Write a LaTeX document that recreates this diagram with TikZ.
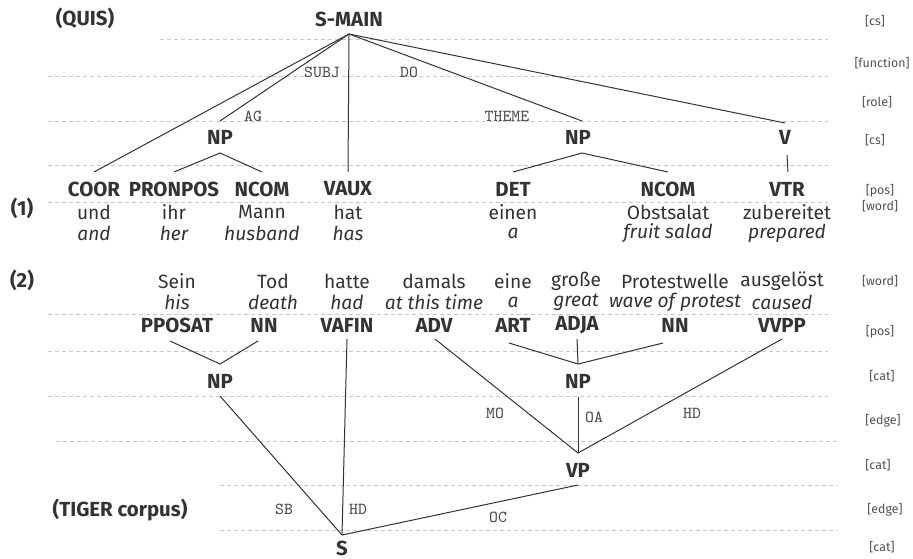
\documentclass[tikz,border=0pt]{standalone}
\usepackage{fontspec}
\setmainfont{Fira Sans}
\definecolor{txt}{HTML}{333333}
\definecolor{dashc}{HTML}{C8C8C8}
\definecolor{lbl}{HTML}{505050}
\begin{document}
\begin{tikzpicture}[x=0.5pt,y=-0.5pt,
 cat/.style={font=\fontsize{10.2}{12}\selectfont\bfseries, text=txt, inner sep=0pt},
 word/.style={font=\fontsize{9.6}{11}\selectfont, text=txt, inner sep=0pt},
 gloss/.style={font=\fontsize{9.6}{11}\selectfont\itshape, text=txt, inner sep=0pt},
 tier/.style={font=\fontsize{6.2}{7}\selectfont, text=lbl, inner sep=0pt},
 elab/.style={font=\ttfamily\fontsize{8.4}{10}\selectfont, text=lbl, inner sep=0pt},
 guide/.style={draw=dashc, dash pattern=on 2pt off 1.5pt, line width=0.45pt},
 branch/.style={draw=txt, line width=0.5pt}]
\useasboundingbox (0,0) rectangle (913,558);

% ---------- guide lines ----------
\foreach \yy/\xa/\xb in {39/160/828, 76/48/828, 121/48/828, 165/48/828, 202/48/828,
  314/48/828, 351/48/828, 396/48/828, 441/56/837, 485/220/837, 530/220/837}
  \draw[guide] (\xa,\yy) -- (\xb,\yy);

% ---------- tier labels ----------
\node[tier] (t1) at (875,21) {[cs]};
\node[tier] (t2) at (882,63) {[function]};
\node[tier] (t3) at (877,102) {[role]};
\node[tier] (t4) at (875,140) {[cs]};
\node[tier] (t5) at (880,191) {[pos]};
\node[tier] (t6) at (880,206) {[word]};
\node[tier] (t7) at (880,281) {[word]};
\node[tier] (t8) at (880,332) {[pos]};
\node[tier] (t9) at (882,376) {[cat]};
\node[tier] (t10) at (883,421) {[edge]};
\node[tier] (t11) at (878,465) {[cat]};
\node[tier] (t12) at (885,510) {[edge]};
\node[tier] (t13) at (882,547) {[cat]};

% ---------- example (1) ----------
\node[cat] (quis) at (85,18) {(QUIS)};
\node[cat] (ex1) at (22,208) {(1)};
\node[cat] (smain) at (349,19) {S-MAIN};
\node[cat] (np1) at (220,137) {NP};
\node[cat] (np2) at (578,137) {NP};
\node[cat] (v) at (785,137) {V};

\node[cat] (coor) at (94,189) {COOR};
\node[cat] (pronpos) at (174,189) {PRONPOS};
\node[cat] (ncoma) at (262,189) {NCOM};
\node[cat] (vaux) at (348,189) {VAUX};
\node[cat] (det) at (513,189) {DET};
\node[cat] (ncomb) at (668,189) {NCOM};
\node[cat] (vtr) at (787,189) {VTR};

\node[word] (w1) at (94,212) {und};
\node[word] (w2) at (174,212) {ihr};
\node[word] (w3) at (262,212) {Mann};
\node[word] (w4) at (348,212) {hat};
\node[word] (w5) at (513,212) {einen};
\node[word] (w6) at (668,212) {Obstsalat};
\node[word] (w7) at (787,212) {zubereitet};

\node[gloss] (g1) at (94,233) {and};
\node[gloss] (g2) at (174,233) {her};
\node[gloss] (g3) at (262,233) {husband};
\node[gloss] (g4) at (348,233) {has};
\node[gloss] (g5) at (513,233) {a};
\node[gloss] (g6) at (668,233) {fruit salad};
\node[gloss] (g7) at (787,233) {prepared};

\coordinate (smainB) at (349,34);
\coordinate (coorT) at (94,172);
\coordinate (np1T) at (220,121);
\coordinate (vauxT) at (348,172);
\coordinate (np2T) at (582,121);
\coordinate (vT) at (785,123);
\coordinate (np1B) at (220,153);
\coordinate (pronposT) at (174,172);
\coordinate (ncomaT) at (262,172);
\coordinate (np2B) at (582,153);
\coordinate (detT) at (513,172);
\coordinate (ncombT) at (668,172);
\coordinate (vB) at (787,155);
\coordinate (vtrT) at (788,172);

\draw[branch] (smainB) -- (coorT);
\draw[branch] (smainB) -- (np1T);
\draw[branch] (smainB) -- (vauxT);
\draw[branch] (smainB) -- (np2T);
\draw[branch] (smainB) -- (vT);
\draw[branch] (pronposT) -- (np1B) -- (ncomaT);
\draw[branch] (detT) -- (np2B) -- (ncombT);
\draw[branch] (vB) -- (vtrT);

\node[elab] (subj) at (322,72) {SUBJ};
\node[elab] (do) at (409,72) {DO};
\node[elab] (ag) at (253,116) {AG};
\node[elab] (theme) at (507,116) {THEME};

% ---------- example (2) ----------
\node[cat] (ex2) at (22,280) {(2)};
\node[cat] (tiger) at (120,510) {(TIGER corpus)};

\node[word] (s1) at (177,281) {Sein};
\node[word] (s2) at (273,281) {Tod};
\node[word] (s3) at (347,281) {hatte};
\node[word] (s4) at (434,281) {damals};
\node[word] (s5) at (513,281) {eine};
\node[word] (s6) at (576,281) {große};
\node[word] (s7) at (675,281) {Protestwelle};
\node[word] (s8) at (782,281) {ausgelöst};

\node[gloss] (h1) at (177,302) {his};
\node[gloss] (h2) at (273,302) {death};
\node[gloss] (h3) at (347,302) {had};
\node[gloss] (h4) at (434,302) {at this time};
\node[gloss] (h5) at (513,302) {a};
\node[gloss] (h6) at (576,302) {great};
\node[gloss] (h7) at (675,302) {wave of protest};
\node[gloss] (h8) at (782,302) {caused};

\node[cat] (pposat) at (177,325) {PPOSAT};
\node[cat] (nna) at (264,325) {NN};
\node[cat] (vafin) at (347,325) {VAFIN};
\node[cat] (adv) at (434,325) {ADV};
\node[cat] (art) at (513,325) {ART};
\node[cat] (adja) at (577,325) {ADJA};
\node[cat] (nnb) at (675,325) {NN};
\node[cat] (vvpp) at (782,325) {VVPP};

\node[cat] (np3) at (220,381) {NP};
\node[cat] (np4) at (578,381) {NP};
\node[cat] (vp) at (578,470) {VP};
\node[cat] (s) at (342,548) {S};

\coordinate (pposatB) at (170,341);
\coordinate (nnaB) at (258,341);
\coordinate (np3T) at (220,364);
\coordinate (np3B) at (220,396);
\coordinate (artB) at (509,343);
\coordinate (adjaB) at (577,339);
\coordinate (nnbB) at (663,343);
\coordinate (np4T) at (578,364);
\coordinate (np4B) at (578,397);
\coordinate (advB) at (435,339);
\coordinate (vvppB) at (782,339);
\coordinate (vpT) at (578,453);
\coordinate (vpB) at (578,485);
\coordinate (vafinB) at (347,339);
\coordinate (sT) at (342,535);

\draw[branch] (pposatB) -- (np3T) -- (nnaB);
\draw[branch] (artB) -- (np4T) -- (nnbB);
\draw[branch] (adjaB) -- (np4T);
\draw[branch] (advB) -- (vpT) -- (vvppB);
\draw[branch] (np4B) -- (vpT);
\draw[branch] (np3B) -- (sT);
\draw[branch] (vafinB) -- (sT);
\draw[branch] (vpB) -- (sT);

\node[elab] (mo) at (495,413) {MO};
\node[elab] (oa) at (594,417) {OA};
\node[elab] (hda) at (692,413) {HD};
\node[elab] (sb) at (284,509) {SB};
\node[elab] (hdb) at (358,509) {HD};
\node[elab] (oc) at (498,517) {OC};
\end{tikzpicture}
\end{document}
